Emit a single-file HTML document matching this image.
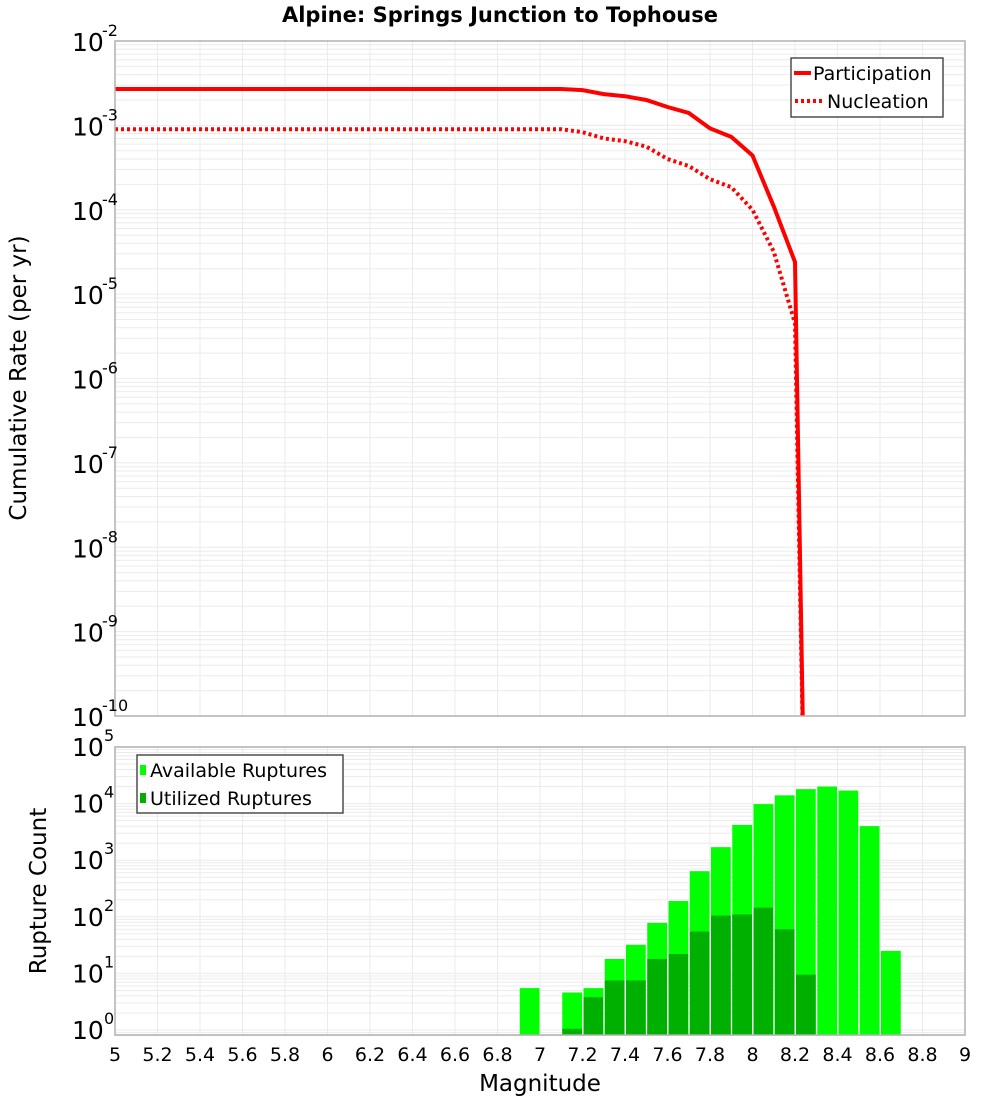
<!DOCTYPE html>
<html><head><meta charset="utf-8"><style>
body{margin:0;background:#fff;font-family:"Liberation Sans","DejaVu Sans",sans-serif;}
svg{display:block}
</style></head><body>
<svg id="chart" width="1000" height="1100" xmlns="http://www.w3.org/2000/svg" font-family="DejaVu Sans, Liberation Sans, sans-serif"></svg>
<script>
const mags=[5.0,5.1,5.2,5.3,5.4,5.5,5.6,5.7,5.8,5.9,6.0,6.1,6.2,6.3,6.4,6.5,6.6,6.7,6.8,6.9,7.0,7.1,7.2,7.3,7.4,7.5,7.6,7.7,7.8,7.9,8.0,8.1,8.2,8.25];
const participation=[2.7e-3,2.7e-3,2.7e-3,2.7e-3,2.7e-3,2.7e-3,2.7e-3,2.7e-3,2.7e-3,2.7e-3,2.7e-3,2.7e-3,2.7e-3,2.7e-3,2.7e-3,2.7e-3,2.7e-3,2.7e-3,2.7e-3,2.7e-3,2.7e-3,2.7e-3,2.62e-3,2.35e-3,2.22e-3,2.0e-3,1.65e-3,1.4e-3,9.2e-4,7.3e-4,4.4e-4,1.1e-4,2.4e-5,1e-12];
const nucleation=[9.0e-4,9.0e-4,9.0e-4,9.0e-4,9.0e-4,9.0e-4,9.0e-4,9.0e-4,9.0e-4,9.0e-4,9.0e-4,9.0e-4,9.0e-4,9.0e-4,9.0e-4,9.0e-4,9.0e-4,9.0e-4,9.0e-4,9.0e-4,9.0e-4,9.0e-4,8.3e-4,7.0e-4,6.5e-4,5.6e-4,4.0e-4,3.3e-4,2.3e-4,1.85e-4,1.0e-4,3.2e-5,4.5e-6,1e-12];
const binStarts=[6.9,7.1,7.2,7.3,7.4,7.5,7.6,7.7,7.8,7.9,8.0,8.1,8.2,8.3,8.4,8.5,8.6];
const available=[5.5,4.6,5.5,18,32,78,190,640,1700,4200,9800,14000,18000,20000,17000,4000,25];
const utilized=[0,1.05,3.8,7.5,7.5,18,22,55,105,110,145,60,9.5,0,0,0,0];
const xTicks=["5","5.2","5.4","5.6","5.8","6","6.2","6.4","6.6","6.8","7","7.2","7.4","7.6","7.8","8","8.2","8.4","8.6","8.8","9"];

const NS="http://www.w3.org/2000/svg";
const svg=document.getElementById('chart');
function mk(tag,attrs,parent){const e=document.createElementNS(NS,tag);for(const k in attrs)e.setAttribute(k,attrs[k]);(parent||svg).appendChild(e);return e;}
const X0=115,X1=965;
const xs=m=>X0+(m-5)/4*(X1-X0);
const T0=41,T1=716; const yTop=v=>T0+(-2-Math.log10(v))*(T1-T0)/8;
const B0=747,B1=1035; const BPD=56.6; const yBot=v=>1030-Math.log10(v)*BPD;

function grid(y0,y1,decLo,decHi,yf,name){
  const g=mk('g',{});
  
  
  for(let d=decLo;d<decHi;d++)for(let k=1;k<10;k++){const y=yf(k*Math.pow(10,d));if(y<y0-0.5||y>y1+0.5)continue;
    const l=mk('line',{x1:X0,x2:X1,y1:y,y2:y,stroke:'#ebebeb','stroke-width':1},g);}
  for(let i=0;i<=20;i++){const x=xs(5+i*0.2);mk('line',{x1:x,x2:x,y1:y0,y2:y1,stroke:'#ebebeb','stroke-width':1},g);}
}
// title
const t=mk('text',{x:500,y:22,'text-anchor':'middle','font-size':21,'font-weight':'bold',fill:'#000'});
t.textContent='Alpine: Springs Junction to Tophouse';


// top plot
grid(T0,T1,-10,-2,yTop,'top-grid');
const clip=mk('clipPath',{id:'ct'});mk('rect',{x:X0,y:T0,width:X1-X0,height:T1-T0},clip);
function path(vals,dash,name){
  let d='';vals.forEach((v,i)=>{d+=(i?'L':'M')+xs(mags[i]).toFixed(1)+','+yTop(v).toFixed(1);});
  const p=mk('path',{d:d,fill:'none',stroke:'#ff0000','stroke-width':4,'clip-path':'url(#ct)','stroke-dasharray':dash||'none'});
  
}
path(participation,null,'participation-line');
path(nucleation,'3,3','nucleation-line');
const tb=mk('rect',{x:X0,y:T0,width:X1-X0,height:T1-T0,fill:'none',stroke:'#b0b0b0','stroke-width':1.5});

for(let d=-10;d<=-2;d++){const y=yTop(Math.pow(10,d));
  const tx=mk('text',{x:72,y:y+10,'font-size':25,fill:'#000'});tx.textContent='10';
  
  const sp=mk('text',{x:102,y:y-5,'font-size':16,fill:'#000'});sp.textContent=String(d);
  }
const yl=mk('text',{transform:'translate(26,378) rotate(-90)','text-anchor':'middle','font-size':23,fill:'#000'});
yl.textContent='Cumulative Rate (per yr)';
// legend top
const lg=mk('g',{});
mk('rect',{x:791,y:58,width:152,height:59,fill:'#fff',stroke:'#333','stroke-width':1.3},lg);
mk('line',{x1:794,x2:811,y1:73,y2:73,stroke:'#f00','stroke-width':4},lg);
mk('line',{x1:795,x2:823,y1:101,y2:101,stroke:'#f00','stroke-width':4,'stroke-dasharray':'3,3'},lg);
let e=mk('text',{x:813,y:80,'font-size':19,fill:'#000'},lg);e.textContent='Participation';
e=mk('text',{x:827,y:108,'font-size':19,fill:'#000'},lg);e.textContent='Nucleation';

// bottom plot
grid(B0,B1,-1,5,yBot,'bottom-grid');
binStarts.forEach((m,i)=>{
  const x=xs(m)+1,w=xs(m+0.1)-xs(m)-1.5;
  if(available[i]>0){const y=yBot(available[i]);
    const r=mk('rect',{x:x,y:y,width:w,height:B1-y,fill:'#00ff00'});
    }
  if(utilized[i]>0){const y=yBot(utilized[i]);
    const r=mk('rect',{x:x,y:y,width:w,height:B1-y,fill:'#00b000'});
    }
});
const bb=mk('rect',{x:X0,y:B0,width:X1-X0,height:B1-B0,fill:'none',stroke:'#b0b0b0','stroke-width':1.5});

for(let d=0;d<=5;d++){const y=yBot(Math.pow(10,d));
  const tx=mk('text',{x:72,y:y+9,'font-size':25,fill:'#000'});tx.textContent='10';
  
  const sp=mk('text',{x:104,y:y-6,'font-size':16,fill:'#000'});sp.textContent=String(d);
  }
const yl2=mk('text',{transform:'translate(46,891) rotate(-90)','text-anchor':'middle','font-size':23,fill:'#000'});
yl2.textContent='Rupture Count';
xTicks.forEach((s,i)=>{const tx=mk('text',{x:xs(5+i*0.2),y:1061,'text-anchor':'middle','font-size':19,fill:'#000'});tx.textContent=s;
  });
const xl=mk('text',{x:540,y:1091,'text-anchor':'middle','font-size':23,fill:'#000'});
xl.textContent='Magnitude';
const lg2=mk('g',{});
mk('rect',{x:137,y:755,width:206,height:58,fill:'#fff',stroke:'#333','stroke-width':1.3},lg2);
mk('rect',{x:140,y:765,width:6,height:10,fill:'#00ff00'},lg2);
mk('rect',{x:140,y:793,width:6,height:10,fill:'#00b000'},lg2);
e=mk('text',{x:150,y:777,'font-size':19,fill:'#000'},lg2);e.textContent='Available Ruptures';
e=mk('text',{x:150,y:805,'font-size':19,fill:'#000'},lg2);e.textContent='Utilized Ruptures';
</script>
</body></html>
